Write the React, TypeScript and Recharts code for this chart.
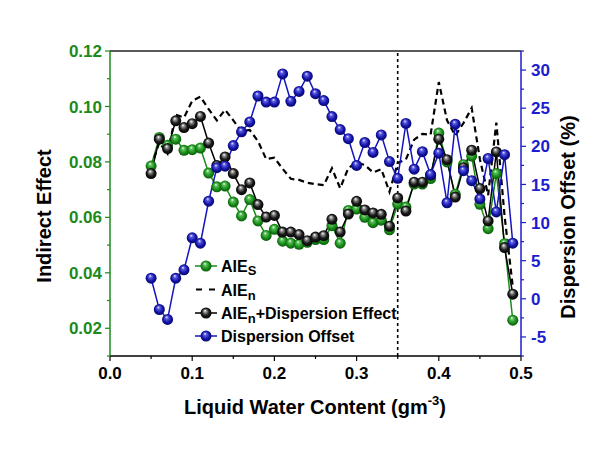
import React from 'react';
import { LineChart, Line, XAxis, YAxis, ReferenceLine } from 'recharts';

const lwc = [0.05, 0.06, 0.07, 0.08, 0.09, 0.1, 0.11, 0.12, 0.13, 0.14, 0.15, 0.16, 0.17, 0.18, 0.19, 0.2, 0.21, 0.22, 0.23, 0.24, 0.25, 0.26, 0.27, 0.28, 0.29, 0.3, 0.31, 0.32, 0.33, 0.34, 0.35, 0.36, 0.37, 0.38, 0.39, 0.4, 0.41, 0.42, 0.43, 0.44, 0.45, 0.46, 0.47, 0.48, 0.49];

const aieS = [0.0785, 0.0888, 0.086, 0.0882, 0.0842, 0.0844, 0.085, 0.076, 0.071, 0.0713, 0.0655, 0.0605, 0.0664, 0.0587, 0.0535, 0.0557, 0.0514, 0.0507, 0.0503, 0.051, 0.052, 0.052, 0.057, 0.0507, 0.0625, 0.063, 0.06, 0.0581, 0.059, 0.0555, 0.0648, 0.0637, 0.072, 0.072, 0.074, 0.0904, 0.08, 0.0683, 0.079, 0.0821, 0.0647, 0.0559, 0.0758, 0.0505, 0.0229];

const aieN = [0.078, 0.087, 0.083, 0.097, 0.096, 0.102, 0.1035, 0.099, 0.095, 0.0988, 0.095, 0.091, 0.0915, 0.0875, 0.081, 0.0815, 0.0775, 0.0739, 0.0735, 0.0725, 0.072, 0.0716, 0.0777, 0.0705, 0.0778, 0.0798, 0.0789, 0.0762, 0.0774, 0.0692, 0.0796, 0.0809, 0.088, 0.0901, 0.0898, 0.1088, 0.095, 0.0895, 0.094, 0.0994, 0.081, 0.068, 0.0942, 0.0605, 0.035];

const aieNDisp = [0.0758, 0.0882, 0.0848, 0.0948, 0.0924, 0.0938, 0.0964, 0.0868, 0.0787, 0.0818, 0.0758, 0.07, 0.0724, 0.0646, 0.0601, 0.0607, 0.0547, 0.0547, 0.0538, 0.0516, 0.0529, 0.0534, 0.0593, 0.0547, 0.0612, 0.0658, 0.0627, 0.0616, 0.0611, 0.0568, 0.067, 0.0623, 0.0727, 0.0727, 0.0752, 0.0882, 0.0808, 0.0673, 0.0779, 0.0842, 0.0704, 0.0587, 0.0836, 0.0491, 0.0323];

const dispOffset = [2.7, -1.4, -2.7, 2.7, 3.8, 8.0, 7.3, 12.8, 17.2, 17.4, 20.1, 21.9, 23.2, 26.6, 25.8, 25.8, 29.5, 25.9, 27.2, 29.2, 26.9, 26.0, 23.9, 22.2, 21.0, 17.5, 20.5, 19.2, 21.5, 18.0, 15.8, 23.0, 17.0, 19.3, 16.3, 19.1, 12.6, 22.9, 16.8, 15.5, 13.1, 18.4, 11.4, 18.9, 7.3];

const xTicks = [0, 0.05, 0.1, 0.15, 0.2, 0.25, 0.3, 0.35, 0.4, 0.45, 0.5];
const leftTicks = [0.01, 0.02, 0.03, 0.04, 0.05, 0.06, 0.07, 0.08, 0.09, 0.1, 0.11, 0.12];
const rightTicks = [-7.5, -5, -2.5, 0, 2.5, 5, 7.5, 10, 12.5, 15, 17.5, 20, 22.5, 25, 27.5, 30, 32.5];

const legendItems = ['AIEs', 'AIEn', 'AIEn+Dispersion Effect', 'Dispersion Offset'];

const data = lwc.map((x, i) => ({ x, s: aieS[i], n: aieN[i], nd: aieNDisp[i], off: dispOffset[i] }));

const GREEN = '#1b8a1b';
const BLUE = '#1c1cd0';
const BLUE_LINE = '#1414c0';
const FONT = '"Liberation Sans", Arial, sans-serif';
const TS = 5;
const TM = 3;

const makeBall = (grad: string, id: string) => (p: any) => {
  if (p == null || p.cx == null || p.cy == null || isNaN(p.cx) || isNaN(p.cy)) {
    return <g key={`${id}-${p && p.index}`} />;
  }
  return <circle key={`${id}-${p.index}`} cx={p.cx} cy={p.cy} r={5.5} fill={`url(#${grad})`} />;
};

const LeftTick = (p: any) => {
  const v = p.payload.value;
  const ax = p.x + TS + TM;
  const major = Math.round(v * 100) % 2 === 0;
  return (
    <g>
      <line x1={ax} x2={ax - (major ? 5 : 3)} y1={p.y} y2={p.y} stroke={GREEN} strokeWidth={1.2} />
      {major && (
        <text x={ax - 8} y={p.y} dy="0.36em" textAnchor="end" fill={GREEN} fontFamily={FONT} fontWeight="bold" fontSize={17}>
          {v.toFixed(2)}
        </text>
      )}
    </g>
  );
};

const RightTick = (p: any) => {
  const v = p.payload.value;
  const ax = p.x - TS - TM;
  const major = Math.abs(v % 5) < 1e-9;
  return (
    <g>
      <line x1={ax} x2={ax + (major ? 5 : 3)} y1={p.y} y2={p.y} stroke={BLUE} strokeWidth={1.2} />
      {major && (
        <text x={ax + 10} y={p.y} dy="0.36em" textAnchor="start" fill={BLUE} fontFamily={FONT} fontWeight="bold" fontSize={17}>
          {String(v)}
        </text>
      )}
    </g>
  );
};

const BottomTick = (p: any) => {
  const v = p.payload.value;
  const ay = p.y - TS - TM;
  const major = Math.abs(v * 10 - Math.round(v * 10)) < 1e-6;
  return (
    <g>
      <line x1={p.x} x2={p.x} y1={ay} y2={ay + (major ? 5 : 3)} stroke="#000" strokeWidth={1.2} />
      {major && (
        <text x={p.x} y={ay + 23} textAnchor="middle" fill="#000" fontFamily={FONT} fontWeight="bold" fontSize={17}>
          {v.toFixed(1)}
        </text>
      )}
    </g>
  );
};

const XTitle = () => (
  <text x={315} y={414} textAnchor="middle" fill="#000" fontFamily={FONT} fontWeight="bold" fontSize={20}>
    Liquid Water Content (gm
    <tspan fontSize={13} dy={-9}>-3</tspan>
    <tspan dy={9}>)</tspan>
  </text>
);

const LeftTitle = () => (
  <text x={44} y={216} dy="0.36em" textAnchor="middle" transform="rotate(-90 44 216)" fill="#000" fontFamily={FONT} fontWeight="bold" fontSize={20}>
    Indirect Effect
  </text>
);

const RightTitleAndLegend = () => {
  const rows = [266, 289.5, 313, 336];
  return (
    <g>
      <text x={568} y={217} dy="0.36em" textAnchor="middle" transform="rotate(-90 568 217)" fill="#000" fontFamily={FONT} fontWeight="bold" fontSize={20}>
        Dispersion Offset (%)
      </text>
      {/* legend */}
      <line x1={195} x2={217} y1={rows[0]} y2={rows[0]} stroke={GREEN} strokeWidth={1.5} strokeDasharray="6 10" />
      <circle cx={206} cy={rows[0]} r={5.5} fill="url(#gGreen)" />
      <text x={221} y={rows[0] + 6} fill="#000" fontFamily={FONT} fontWeight="bold" fontSize={16}>
        {legendItems[0].slice(0, 3)}
        <tspan fontSize={13} dy={3}>S</tspan>
      </text>
      <line x1={196} x2={216} y1={rows[1]} y2={rows[1]} stroke="#000" strokeWidth={2} strokeDasharray="6 7" />
      <text x={221} y={rows[1] + 6} fill="#000" fontFamily={FONT} fontWeight="bold" fontSize={16}>
        {legendItems[1].slice(0, 3)}
        <tspan fontSize={13} dy={4}>n</tspan>
      </text>
      <line x1={195} x2={217} y1={rows[2]} y2={rows[2]} stroke="#000" strokeWidth={1.5} strokeDasharray="6 10" />
      <circle cx={206} cy={rows[2]} r={5.5} fill="url(#gBlack)" />
      <text x={221} y={rows[2] + 6} fill="#000" fontFamily={FONT} fontWeight="bold" fontSize={16}>
        {legendItems[2].slice(0, 3)}
        <tspan fontSize={13} dy={4}>n</tspan>
        <tspan dy={-4}>{legendItems[2].slice(4)}</tspan>
      </text>
      <line x1={195} x2={217} y1={rows[3]} y2={rows[3]} stroke={BLUE_LINE} strokeWidth={1.5} strokeDasharray="6 10" />
      <circle cx={206} cy={rows[3]} r={5.5} fill="url(#gBlue)" />
      <text x={221} y={rows[3] + 6} fill="#000" fontFamily={FONT} fontWeight="bold" fontSize={16}>
        {legendItems[3]}
      </text>
    </g>
  );
};

const Gradients = () => (
  <svg width={0} height={0} style={{ position: 'absolute' }}>
    <defs>
      <radialGradient id="gGreen" cx="0.5" cy="0.5" r="0.55" fx="0.4" fy="0.28">
        <stop offset="0" stopColor="#f4fff4" />
        <stop offset="0.25" stopColor="#5cbf5c" />
        <stop offset="0.65" stopColor="#158a15" />
        <stop offset="1" stopColor="#0a4f0a" />
      </radialGradient>
      <radialGradient id="gBlack" cx="0.5" cy="0.5" r="0.55" fx="0.4" fy="0.28">
        <stop offset="0" stopColor="#ffffff" />
        <stop offset="0.25" stopColor="#8a8a8a" />
        <stop offset="0.6" stopColor="#1a1a1a" />
        <stop offset="1" stopColor="#000000" />
      </radialGradient>
      <radialGradient id="gBlue" cx="0.5" cy="0.5" r="0.55" fx="0.4" fy="0.28">
        <stop offset="0" stopColor="#f2f2ff" />
        <stop offset="0.25" stopColor="#5a5ae0" />
        <stop offset="0.65" stopColor="#1212a8" />
        <stop offset="1" stopColor="#06065a" />
      </radialGradient>
    </defs>
  </svg>
);

export default function App() {
  return (
    <div style={{ position: 'absolute', left: 0, top: 0, width: 613, height: 456, background: '#fff' }}>
      <Gradients />
      <LineChart width={613} height={456} data={data} margin={{ top: 51, right: 32, bottom: 60, left: 50 }}>
        <XAxis
          type="number"
          dataKey="x"
          domain={[0, 0.5]}
          ticks={xTicks}
          interval={0}
          height={40}
          tickSize={TS}
          tickMargin={TM}
          tickLine={false}
          axisLine={{ stroke: '#000', strokeWidth: 1.5 }}
          tick={<BottomTick />}
          label={XTitle}
        />
        <YAxis
          yAxisId="left"
          orientation="left"
          domain={[0.01, 0.12]}
          ticks={leftTicks}
          interval={0}
          width={60}
          tickSize={TS}
          tickMargin={TM}
          tickLine={false}
          axisLine={{ stroke: GREEN, strokeWidth: 1.5 }}
          tick={<LeftTick />}
          label={LeftTitle}
        />
        <YAxis
          yAxisId="right"
          orientation="right"
          domain={[-7.5, 32.5]}
          ticks={rightTicks}
          interval={0}
          width={60}
          tickSize={TS}
          tickMargin={TM}
          tickLine={false}
          axisLine={{ stroke: BLUE, strokeWidth: 1.5 }}
          tick={<RightTick />}
          label={RightTitleAndLegend}
        />
        <ReferenceLine yAxisId="left" y={0.12} stroke="#222" strokeWidth={1.5} />
        <ReferenceLine yAxisId="left" x={0.35} stroke="#000" strokeWidth={1.6} strokeDasharray="3 3" />
        <Line yAxisId="left" dataKey="s" stroke={GREEN} strokeWidth={1.5} dot={makeBall('gGreen', 'g')} activeDot={false} isAnimationActive={false} />
        <Line yAxisId="left" dataKey="nd" stroke="#000" strokeWidth={1.5} dot={makeBall('gBlack', 'k')} activeDot={false} isAnimationActive={false} />
        <Line yAxisId="left" dataKey="n" stroke="#000" strokeWidth={2.2} strokeDasharray="6 4" dot={false} activeDot={false} isAnimationActive={false} />
        <Line yAxisId="right" dataKey="off" stroke={BLUE_LINE} strokeWidth={1.5} dot={makeBall('gBlue', 'b')} activeDot={false} isAnimationActive={false} />
      </LineChart>
    </div>
  );
}
